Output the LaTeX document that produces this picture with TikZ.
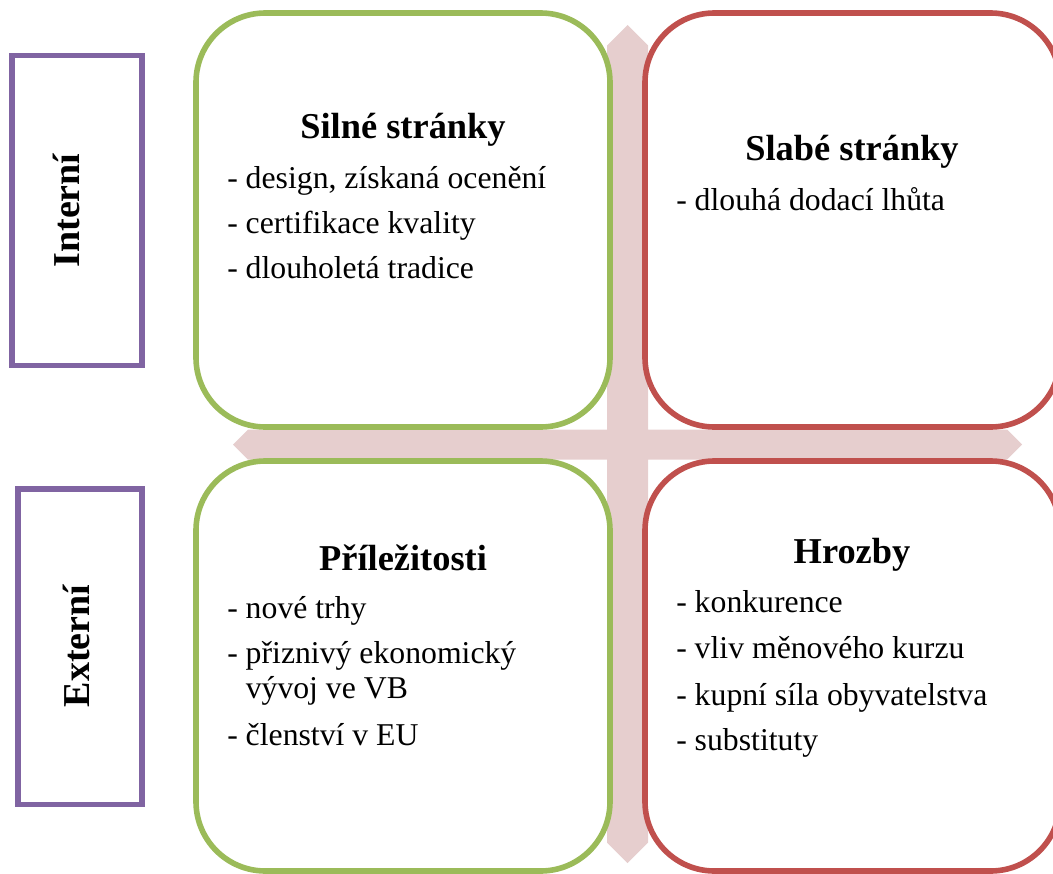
\documentclass[tikz,border=0pt]{standalone}
\usepackage{fontspec}
\setmainfont{Liberation Serif}
\usepackage{xcolor}
\usepackage{tikz}

\definecolor{swotgreen}{HTML}{9BBB59}
\definecolor{swotred}{HTML}{C0504D}
\definecolor{swotpurple}{HTML}{8064A2}
\definecolor{swotpink}{HTML}{E6CECE}

\begin{document}
\begin{tikzpicture}[x=0.75pt,y=0.75pt,yscale=-1,xscale=1,
  quadbox/.style={line width=4.2pt,rounded corners=52pt,fill=white},
  sidebox/.style={draw=swotpurple,line width=3.8pt,fill=white},
  heading/.style={anchor=base,inner sep=0pt,font=\fontsize{27.3}{32}\selectfont\bfseries},
  item/.style={anchor=base west,inner sep=0pt,font=\fontsize{23.8}{28}\selectfont},
  sidelabel/.style={anchor=base,rotate=90,inner sep=0pt,font=\fontsize{28.5}{34}\selectfont\bfseries}]

\useasboundingbox (0,0) rectangle (1053,874);
\clip (0,0) rectangle (1053,874);

%cross in the background
\fill [swotpink] (627.5,25) -- (648,45.5) -- (648,429.5) -- (1007,429.5) -- (1022,444.5) -- (1007,459.5) -- (648,459.5) -- (648,842.5) -- (627.5,863) -- (607,842.5) -- (607,459.5) -- (248,459.5) -- (233,444.5) -- (248,429.5) -- (607,429.5) -- (607,45.5) -- cycle ;

%quadrants
\draw [quadbox,draw=swotgreen] (196,13) rectangle (610,427) ;

\draw [quadbox,draw=swotred] (645,13) rectangle (1060,427) ;

\draw [quadbox,draw=swotgreen] (196,461) rectangle (610,871) ;

\draw [quadbox,draw=swotred] (645,461) rectangle (1060,871) ;

%side boxes
\draw [sidebox] (12,55.5) rectangle (142,365.5) ;

\draw [sidebox] (18,489) rectangle (142,804.5) ;

\draw (79,210.5) node [sidelabel] (interni) {Interní};

\draw (89,646) node [sidelabel] (externi) {Externí};

%strengths
\draw (403,138) node [heading] (silne) {Silné stránky};

\draw (227,188) node [item] (silne1) {- design, získaná ocenění};

\draw (227,233) node [item] (silne2) {- certifikace kvality};

\draw (227,278) node [item] (silne3) {- dlouholetá tradice};

%weaknesses
\draw (852,160) node [heading] (slabe) {Slabé stránky};

\draw (676,210) node [item] (slabe1) {- dlouhá dodací lhůta};

%opportunities
\draw (403,570) node [heading] (prilez) {Příležitosti};

\draw (227,618) node [item] (prilez1) {- nové trhy};

\draw (227,663) node [item] (prilez2) {- přiznivý ekonomický};

\draw (227,698) node [item] (prilez2b) {\phantom{- }vývoj ve VB};

\draw (227,745) node [item] (prilez3) {- členství v EU};

%threats
\draw (852,563) node [heading] (hrozby) {Hrozby};

\draw (676,612) node [item] (hrozby1) {- konkurence};

\draw (676,658) node [item] (hrozby2) {- vliv měnového kurzu};

\draw (676,705) node [item] (hrozby3) {- kupní síla obyvatelstva};

\draw (676,750) node [item] (hrozby4) {- substituty};

\end{tikzpicture}
\end{document}
